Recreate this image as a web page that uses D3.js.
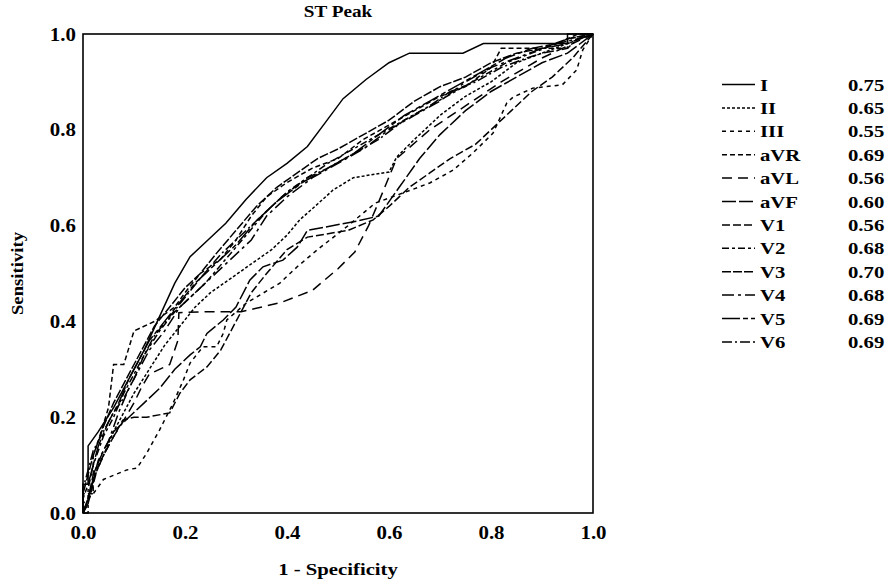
<!DOCTYPE html>
<html lang="en">
<head>
  <meta charset="UTF-8">
  <title>ST Peak ROC</title>
  <style>
    body { margin: 0; background: #fff; }
    svg text { font-family: "Liberation Serif", "Times New Roman", serif; font-weight: bold; fill: #000; }
    .curve { fill: none; stroke: #000; stroke-width: 1.5px; }
  </style>
  <script src="https://d3js.org/d3.v7.min.js"></script>
</head>
<body>
<div id="chart"></div>
<script>
  // Leads and their areas under the curve
  var leads = ["I", "II", "III", "aVR", "aVL", "aVF", "V1", "V2", "V3", "V4", "V5", "V6"];
  var aucLabels = ["0.75", "0.65", "0.55", "0.69", "0.56", "0.60", "0.56", "0.68", "0.70", "0.68", "0.69", "0.69"];
  var ticks = [0, 0.2, 0.4, 0.6, 0.8, 1.0];

  // ROC points [1 - specificity, sensitivity]
  var rocI = [[0,0],[0,0.06],[0.01,0.06],[0.01,0.14],[0.03,0.17],[0.06,0.22],[0.09,0.28],[0.12,0.34],[0.15,0.41],[0.18,0.48],[0.21,0.535],[0.245,0.57],[0.28,0.605],[0.32,0.655],[0.36,0.70],[0.40,0.73],[0.44,0.765],[0.475,0.815],[0.51,0.865],[0.555,0.905],[0.60,0.94],[0.64,0.96],[0.745,0.96],[0.785,0.98],[0.95,0.98],[0.95,1],[1,1]];
  var rocII = [[0,0],[0.01,0.03],[0.02,0.07],[0.04,0.12],[0.06,0.17],[0.08,0.21],[0.1,0.25],[0.13,0.3],[0.16,0.35],[0.19,0.39],[0.22,0.43],[0.25,0.46],[0.29,0.49],[0.33,0.52],[0.37,0.55],[0.4,0.58],[0.425,0.612],[0.46,0.645],[0.49,0.674],[0.53,0.70],[0.6,0.712],[0.615,0.743],[0.65,0.78],[0.7,0.83],[0.75,0.87],[0.8,0.9],[0.85,0.94],[0.9,0.96],[0.95,0.98],[1,1]];
  var rocIII = [[0,0],[0,0.02],[0.02,0.04],[0.04,0.07],[0.086,0.09],[0.106,0.094],[0.125,0.125],[0.15,0.173],[0.177,0.23],[0.197,0.278],[0.21,0.313],[0.235,0.347],[0.262,0.347],[0.275,0.375],[0.282,0.403],[0.32,0.438],[0.386,0.48],[0.42,0.514],[0.46,0.55],[0.52,0.6],[0.573,0.647],[0.627,0.668],[0.68,0.689],[0.726,0.716],[0.765,0.752],[0.804,0.793],[0.831,0.856],[0.843,0.868],[0.882,0.887],[0.94,0.894],[0.968,0.925],[0.98,0.967],[1,1]];
  var rocAVR = [[0,0],[0,0.04],[0.02,0.04],[0.02,0.12],[0.03,0.15],[0.05,0.22],[0.06,0.31],[0.08,0.31],[0.1,0.38],[0.14,0.40],[0.18,0.43],[0.2,0.46],[0.23,0.5],[0.27,0.53],[0.3,0.57],[0.33,0.62],[0.36,0.66],[0.40,0.69],[0.45,0.72],[0.5,0.74],[0.55,0.78],[0.6,0.81],[0.65,0.84],[0.7,0.87],[0.75,0.89],[0.8,0.93],[0.82,0.97],[0.95,0.97],[0.95,0.99],[1,1]];
  var rocAVL = [[0,0],[0.01,0.03],[0.02,0.07],[0.04,0.12],[0.06,0.16],[0.078,0.19],[0.1,0.23],[0.115,0.263],[0.13,0.29],[0.17,0.31],[0.186,0.36],[0.188,0.418],[0.23,0.42],[0.31,0.42],[0.39,0.44],[0.45,0.465],[0.5,0.51],[0.533,0.545],[0.56,0.6],[0.58,0.65],[0.615,0.74],[0.68,0.8],[0.75,0.85],[0.82,0.9],[0.9,0.95],[1,1]];
  var rocAVF = [[0,0],[0.01,0.03],[0.02,0.08],[0.04,0.13],[0.06,0.17],[0.09,0.2],[0.12,0.23],[0.15,0.26],[0.18,0.3],[0.21,0.33],[0.23,0.347],[0.243,0.375],[0.275,0.403],[0.3,0.43],[0.327,0.486],[0.353,0.514],[0.392,0.528],[0.42,0.555],[0.44,0.59],[0.54,0.61],[0.58,0.62],[0.62,0.68],[0.66,0.74],[0.7,0.79],[0.75,0.84],[0.8,0.88],[0.85,0.91],[0.9,0.94],[0.95,0.96],[1,1]];
  var rocV1 = [[0,0],[0.01,0.02],[0.02,0.06],[0.03,0.1],[0.05,0.14],[0.078,0.194],[0.1,0.2],[0.125,0.2],[0.17,0.209],[0.19,0.25],[0.21,0.278],[0.243,0.305],[0.27,0.34],[0.3,0.4],[0.33,0.46],[0.36,0.5],[0.4,0.55],[0.44,0.576],[0.52,0.59],[0.569,0.612],[0.6,0.64],[0.64,0.68],[0.68,0.71],[0.72,0.74],[0.77,0.77],[0.8,0.8],[0.84,0.84],[0.88,0.88],[0.92,0.91],[0.96,0.95],[1,1]];
  var rocV2 = [[0,0],[0.01,0],[0.01,0.05],[0.02,0.1],[0.04,0.16],[0.06,0.2],[0.08,0.25],[0.1,0.29],[0.12,0.33],[0.15,0.38],[0.18,0.42],[0.21,0.45],[0.24,0.48],[0.28,0.53],[0.32,0.58],[0.36,0.63],[0.4,0.67],[0.44,0.7],[0.48,0.73],[0.53,0.76],[0.58,0.79],[0.63,0.82],[0.68,0.85],[0.73,0.88],[0.78,0.91],[0.83,0.94],[0.88,0.96],[0.93,0.98],[0.97,0.99],[1,1]];
  var rocV3 = [[0,0],[0,0.04],[0.01,0.08],[0.02,0.12],[0.04,0.18],[0.06,0.23],[0.08,0.27],[0.1,0.31],[0.12,0.35],[0.14,0.39],[0.17,0.43],[0.2,0.47],[0.23,0.5],[0.26,0.54],[0.3,0.59],[0.34,0.64],[0.38,0.68],[0.42,0.71],[0.46,0.74],[0.5,0.76],[0.55,0.79],[0.6,0.82],[0.65,0.86],[0.7,0.89],[0.75,0.91],[0.8,0.94],[0.85,0.96],[0.9,0.97],[0.95,0.99],[1,1]];
  var rocV4 = [[0,0],[0.01,0.02],[0.02,0.07],[0.03,0.11],[0.05,0.15],[0.07,0.21],[0.09,0.26],[0.11,0.3],[0.13,0.34],[0.16,0.38],[0.19,0.43],[0.22,0.46],[0.25,0.49],[0.29,0.53],[0.33,0.57],[0.36,0.62],[0.4,0.66],[0.45,0.7],[0.5,0.73],[0.55,0.76],[0.6,0.8],[0.65,0.83],[0.7,0.86],[0.75,0.9],[0.8,0.93],[0.85,0.95],[0.9,0.97],[0.95,0.98],[1,1]];
  var rocV5 = [[0,0],[0,0.03],[0.01,0.06],[0.02,0.1],[0.03,0.14],[0.05,0.19],[0.07,0.23],[0.09,0.28],[0.11,0.32],[0.13,0.36],[0.16,0.4],[0.19,0.44],[0.22,0.48],[0.26,0.52],[0.3,0.56],[0.34,0.61],[0.38,0.65],[0.43,0.69],[0.48,0.72],[0.53,0.75],[0.58,0.79],[0.63,0.83],[0.68,0.86],[0.73,0.89],[0.78,0.92],[0.83,0.95],[0.88,0.97],[0.93,0.98],[0.97,1],[1,1]];
  var rocV6 = [[0,0],[0,0.05],[0.01,0.09],[0.02,0.13],[0.04,0.17],[0.06,0.21],[0.08,0.24],[0.1,0.28],[0.12,0.33],[0.14,0.37],[0.17,0.41],[0.2,0.45],[0.23,0.49],[0.27,0.54],[0.31,0.58],[0.35,0.62],[0.39,0.66],[0.44,0.7],[0.48,0.72],[0.53,0.75],[0.58,0.78],[0.63,0.82],[0.68,0.85],[0.72,0.88],[0.77,0.9],[0.82,0.93],[0.87,0.95],[0.9,0.96],[0.95,0.97],[0.97,0.99],[1,1]];

  var curves = [rocI, rocII, rocIII, rocAVR, rocAVL, rocAVF, rocV1, rocV2, rocV3, rocV4, rocV5, rocV6];

  // line styles, one per lead
  var dashes = ["none", "3,2", "4,4", "5,3", "10,6", "14,3", "8,3", "7,3,3,3", "9,2", "12,4,3,4", "18,3,5,3", "10,3,2,3"];

  var width = 892, height = 581;
  var margin = { left: 83, top: 34, right: 299, bottom: 68 };
  var plotW = width - margin.left - margin.right;
  var plotH = height - margin.top - margin.bottom;

  var svg = d3.select("#chart").append("svg")
    .attr("width", width)
    .attr("height", height);

  var x = d3.scaleLinear().domain([0, 1]).range([margin.left, margin.left + plotW]);
  var y = d3.scaleLinear().domain([0, 1]).range([margin.top + plotH, margin.top]);

  // the source renders its type a bit wide, so stretch text horizontally
  function wideText(sel, tx, ty, sx, size) {
    return sel.append("text")
      .attr("transform", "translate(" + tx + "," + ty + ") scale(" + sx + ",1)")
      .style("font-size", size + "px");
  }

  // title
  wideText(svg, x(0.5), 17, 1.2, 16)
    .attr("text-anchor", "middle")
    .text("ST Peak");

  // curves
  var line = d3.line().x(d => x(d[0])).y(d => y(d[1]));

  svg.append("g")
    .selectAll("path")
    .data(curves)
    .enter().append("path")
    .attr("class", "curve")
    .attr("stroke-dasharray", (d, i) => dashes[i])
    .attr("d", line);

  // frame
  svg.append("rect")
    .attr("x", x(0))
    .attr("y", y(1))
    .attr("width", plotW)
    .attr("height", plotH)
    .attr("fill", "none")
    .attr("stroke", "#000")
    .attr("stroke-width", 1.6);

  // axes (labels only)
  var fmt = d3.format(".1f");
  var xAxis = svg.append("g")
    .attr("transform", "translate(0," + y(0) + ")")
    .call(d3.axisBottom(x).tickValues(ticks).tickFormat(fmt).tickSize(0).tickPadding(13));
  var yAxis = svg.append("g")
    .attr("transform", "translate(" + x(0) + ",0)")
    .call(d3.axisLeft(y).tickValues(ticks).tickFormat(fmt).tickSize(0).tickPadding(7));
  [xAxis, yAxis].forEach(g => {
    g.select(".domain").remove();
    g.selectAll("text").style("font-size", "19px").style("font-family", null);
  });
  xAxis.selectAll("text").attr("transform", "scale(1.1,1)");
  yAxis.selectAll("text").attr("x", 0).attr("transform", "translate(-7,0) scale(1.1,1)");

  wideText(svg, x(0.5), 575, 1.22, 17)
    .attr("text-anchor", "middle")
    .text("1 - Specificity");

  svg.append("text")
    .attr("transform", "translate(23," + y(0.5) + ") rotate(-90) scale(1.1,1)")
    .attr("text-anchor", "middle")
    .style("font-size", "17px")
    .text("Sensitivity");

  // legend
  var legend = svg.append("g").selectAll("g")
    .data(leads)
    .enter().append("g")
    .attr("transform", (d, i) => "translate(722," + (84.5 + i * 23.4) + ")");

  legend.append("line")
    .attr("x1", 0).attr("x2", 33)
    .attr("stroke", "#000")
    .attr("stroke-width", 1.5)
    .attr("stroke-dasharray", (d, i) => dashes[i]);

  wideText(legend, 38, 6, 1.22, 17)
    .text(d => d);

  wideText(legend, 126, 6, 1.22, 17)
    .text((d, i) => aucLabels[i]);
</script>
</body>
</html>
